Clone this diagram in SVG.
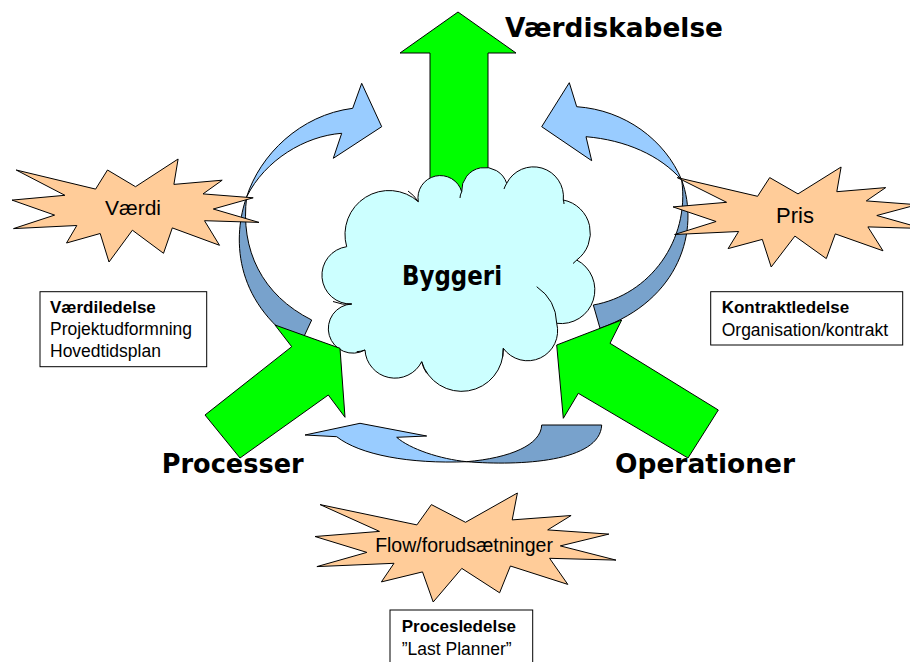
<svg xmlns="http://www.w3.org/2000/svg" width="910" height="662" viewBox="0 0 910 662">
<style>
.g{fill:#00FF00;stroke:#000;stroke-width:1}
.lb{fill:#99CCFF;stroke:#000;stroke-width:1}
.db{fill:#78A2CC;stroke:#000;stroke-width:1}
.star{fill:#FFCC99;stroke:#000;stroke-width:1}
.cloud{fill:#CCFFFF;stroke:#000;stroke-width:1}
.inner{fill:none;stroke:#000;stroke-width:1}
.box{fill:#fff;stroke:#000;stroke-width:1}
.t{font-family:"Liberation Sans",Arial,sans-serif;fill:#000}
.tb{font-family:"Liberation Sans",Arial,sans-serif;font-weight:bold;fill:#000}
.big{font-family:"Comic Sans MS","DejaVu Sans",sans-serif;font-weight:bold;font-size:26px;fill:#000}
</style>
<rect width="910" height="662" fill="#fff"/>

<g id="arrow-top">
<polygon class="g" points="458,12 516,53 488,53 488,205 430,205 430,53 400,53"/>
</g>

<g id="byggeri">
<path class="cloud" d="M351.7,304 A28.8,28.8 0 0 1 346.7,246.7 A44,44 0 0 1 418.3,201.7 A22.3,22.3 0 0 1 461.7,191.7 A23.1,23.1 0 0 1 506.7,183.3 A30,30 0 0 1 563.3,200 A33.6,33.6 0 0 1 576.7,260 A33.7,33.7 0 0 1 556.7,323.3 A30,30 0 0 1 503.3,348.3 A41.7,41.7 0 0 1 421.7,361.7 A30,30 0 0 1 365,350 A24.6,24.6 0 1 1 351.7,304 Z"/>
<path class="inner" d="M333,301.5 Q343,305.5 351.7,304 M408,191 Q414,195 418.3,201.7 M461.7,191.7 Q460,195 460,198 M506.7,183.3 Q505,186 504,189 M563.3,200 Q564,202 564,204 M576.7,260 Q575,262 573,263.5 M536.7,286.7 Q556,300 556.7,323.3 M503.3,348.3 Q503,352 502.7,356.7 M421.7,361.7 Q423,368 426.7,373.3 M365,350 Q361,351.5 356.7,351.7"/>
<text class="big" x="452" y="285" text-anchor="middle" font-size="24" textLength="100" lengthAdjust="spacingAndGlyphs">Byggeri</text>
</g>

<g id="connectors">
<path class="lb" d="M246.7,196.7 C260,155 300,115 352.7,108.3 L361.7,83.3 L381.7,126.7 L333.3,158.3 L341.7,133.3 C305,136 265,160 246.7,196.7 Z"/>
<path class="db" d="M246.7,196.7 C233,235 232,300 300,345 L311.7,320 C262,295 240,250 246.7,196.7 Z"/>
<path class="lb" d="M681.7,180 C665,140 625,110 576.7,106.7 L569.3,82.7 L541.7,126.7 L591.7,160.7 L586,136.7 C625,140 660,155 681.7,180 Z"/>
<path class="db" d="M681.7,180 C700,230 680,300 600,328.3 L593.3,305 C650,295 690,240 681.7,180 Z"/>
<path class="lb" d="M305,435 L360,423.3 L426.7,436 L396.7,437.3 C410,449 440,459 466.7,461.7 C410,464 360,455 336.7,436.7 Z"/>
<path class="db" d="M466.7,461.7 C520,466 600,462 601.7,425 L541.7,425 C541,445 510,458 466.7,461.7 Z"/>
</g>

<g id="arrow-processer">
<polygon class="g" points="205,415 291.7,346.7 275,325 340,348.3 345,417.3 328.3,395 240,458"/>
</g>
<g id="arrow-operationer">
<polygon class="g" points="556.7,345 621.7,320 610,343.3 718.3,410 688,458 578.3,393.3 563.3,418.3"/>
</g>

<g id="vaerdi">
<polygon class="star" points="135.5,186.7 178.1,159 173.9,184.4 222.2,180.2 203,193.9 253.2,197.8 213.3,209 259,222.4 204.5,220.7 219.5,245.3 172.3,227.9 163.5,253.3 132.4,230.2 109,262 100.2,233.5 66.5,243 76.8,225.5 13.5,228.6 54.6,215.1 12,200.1 64.9,195.3 16.2,170 95.6,189.1 107.5,170"/>
<text class="t" x="133" y="215" font-size="21" text-anchor="middle">Værdi</text>
</g>

<g id="pris">
<polygon class="star" points="798,193.9 841.1,167 836.8,191.7 885.7,187.6 866.3,200.9 917.2,204.7 876.8,215.5 923,228.5 867.9,226.9 883,250.8 835.3,233.9 826.3,258.6 794.9,236.1 771.2,267 762.3,239.4 728.1,248.6 738.6,231.5 674.6,234.5 716.1,221.5 673,206.9 726.6,202.3 677.3,177.6 757.6,196.3 769.7,177.6"/>
<text class="t" x="795" y="223" font-size="22" text-anchor="middle">Pris</text>
</g>

<g id="flow">
<polygon class="star" points="465.5,522.3 517.4,493 512.2,519.9 571.1,515.5 547.7,529.9 608.9,534.1 560.3,545.9 616,560.1 549.6,558.3 567.8,584.4 510.4,566 499.6,592.8 461.8,568.4 433.2,602 422.5,571.9 381.4,581.9 394,563.3 316.9,566.6 366.9,552.4 315,536.5 379.5,531.4 320.1,504.6 416.9,524.9 431.4,504.6"/>
<text class="t" x="464" y="551.7" font-size="19.5" text-anchor="middle">Flow/forudsætninger</text>
</g>

<g id="vaerdiledelse">
<rect class="box" x="40" y="291.7" width="166.7" height="75"/>
<text class="tb" x="50" y="313" font-size="17">Værdiledelse</text>
<text class="t" x="50" y="335" font-size="17.5">Projektudformning</text>
<text class="t" x="50" y="357" font-size="17.5">Hovedtidsplan</text>
</g>

<g id="kontraktledelse">
<rect class="box" x="710.7" y="291.7" width="192" height="53.3"/>
<text class="tb" x="721.7" y="313" font-size="17">Kontraktledelse</text>
<text class="t" x="721.7" y="336" font-size="17.5">Organisation/kontrakt</text>
</g>

<g id="procesledelse">
<rect class="box" x="390" y="610" width="142.7" height="60"/>
<text class="tb" x="401.7" y="632" font-size="17">Procesledelse</text>
<text class="t" x="401.7" y="655" font-size="17.5">”Last Planner”</text>
</g>

<g id="labels">
<text class="big" x="505" y="37" textLength="218" lengthAdjust="spacingAndGlyphs">Værdiskabelse</text>
<text class="big" x="161.7" y="473" textLength="142" lengthAdjust="spacingAndGlyphs">Processer</text>
<text class="big" x="615" y="473" textLength="180" lengthAdjust="spacingAndGlyphs">Operationer</text>
</g>
</svg>
